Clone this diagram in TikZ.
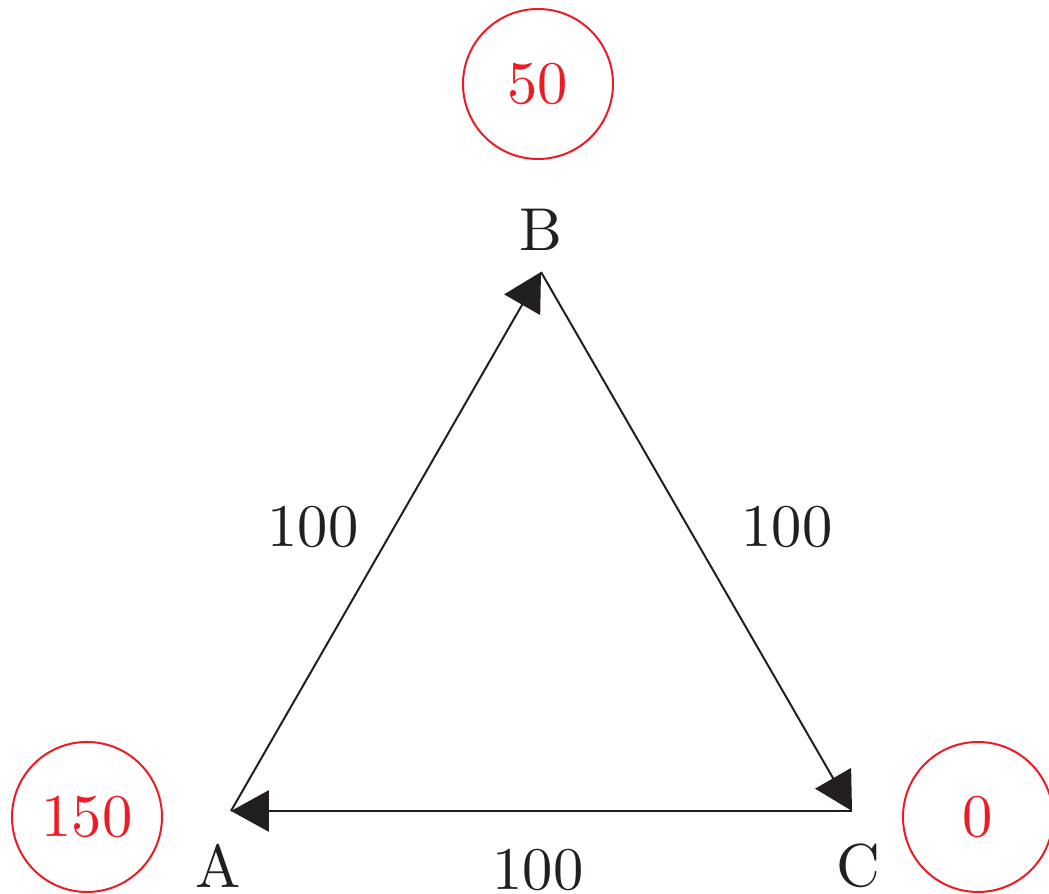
\documentclass[tikz,border=0pt]{standalone}
\usetikzlibrary{arrows.meta}
\definecolor{tred}{RGB}{237,28,36}
\definecolor{tblack}{RGB}{35,31,32}
\begin{document}
\begin{tikzpicture}[x=0.18pt,y=-0.18pt,
  font=\fontsize{10.9}{13}\selectfont,
  edge/.style={draw=tblack,line width=0.36pt,-{Triangle[length=6.8pt,width=7.4pt]}},
  lbl/.style={text=tblack,inner sep=0pt},
  val/.style={circle,draw=tred,text=tred,line width=0.36pt,minimum size=27pt,inner sep=0pt}]
\useasboundingbox (0,0) rectangle (1049,894);
\coordinate (A) at (231,811);
\coordinate (B) at (541,272);
\coordinate (C) at (852,811);
\draw[edge] (A) -- (B);
\draw[edge] (B) -- (C);
\draw[edge] (C) -- (A);
\node[lbl] (la) at (218,866) {A};
\node[lbl] (lb) at (541,230) {B};
\node[lbl] (lc) at (858,866) {C};
\node[lbl] (wab) at (313,527) {100};
\node[lbl] (wbc) at (787,527) {100};
\node[lbl] (wca) at (538,870) {100};
\node[val] (vb) at (538,84) {50};
\node[val] (va) at (87,817) {150};
\node[val] (vc) at (978,817) {0};
\end{tikzpicture}
\end{document}
